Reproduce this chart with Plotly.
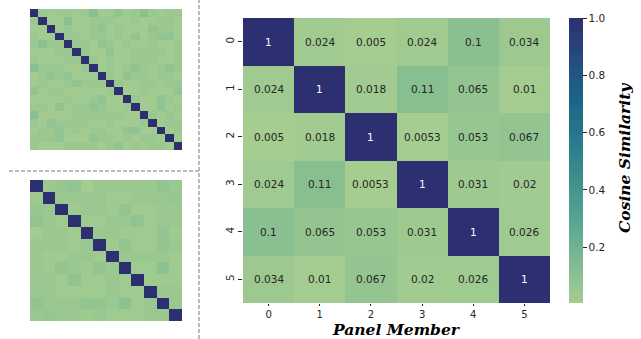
import plotly.graph_objects as go

# ---------------- data ----------------
members = [0, 1, 2, 3, 4, 5]
tick_labels = ["0", "1", "2", "3", "4", "5"]
sim_row0 = [1, 0.024, 0.005, 0.024, 0.1, 0.034]
sim_row1 = [0.024, 1, 0.018, 0.11, 0.065, 0.01]
sim_row2 = [0.005, 0.018, 1, 0.0053, 0.053, 0.067]
sim_row3 = [0.024, 0.11, 0.0053, 1, 0.031, 0.02]
sim_row4 = [0.1, 0.065, 0.053, 0.031, 1, 0.026]
sim_row5 = [0.034, 0.01, 0.067, 0.02, 0.026, 1]
main_matrix = [sim_row0, sim_row1, sim_row2, sim_row3, sim_row4, sim_row5]

# small panel A (18 members): upper triangle, row i holds columns i+1..17 (estimated)
small_a_upper = [
    [0.04, 0.015, 0.04, 0.04, 0.015, 0.04, 0.10, 0.015, 0.015, 0.07, 0.015, 0.04, 0.10, 0.04, 0.015, 0.04, 0.04],
    [0.015, 0.015, 0.10, 0.015, 0.015, 0.04, 0.04, 0.04, 0.015, 0.015, 0.04, 0.015, 0.015, 0.04, 0.04, 0.015],
    [0.015, 0.04, 0.015, 0.015, 0.04, 0.07, 0.015, 0.04, 0.015, 0.015, 0.015, 0.07, 0.04, 0.04, 0.015],
    [0.04, 0.04, 0.015, 0.04, 0.04, 0.015, 0.04, 0.015, 0.07, 0.015, 0.04, 0.07, 0.07, 0.015],
    [0.04, 0.04, 0.015, 0.07, 0.04, 0.015, 0.04, 0.015, 0.015, 0.04, 0.015, 0.015, 0.04],
    [0.04, 0.015, 0.015, 0.07, 0.015, 0.015, 0.04, 0.04, 0.04, 0.04, 0.015, 0.04],
    [0.04, 0.015, 0.04, 0.015, 0.015, 0.04, 0.04, 0.04, 0.015, 0.015, 0.04],
    [0.015, 0.04, 0.015, 0.04, 0.07, 0.04, 0.015, 0.04, 0.07, 0.04],
    [0.04, 0.015, 0.07, 0.04, 0.04, 0.015, 0.04, 0.04, 0.015],
    [0.04, 0.015, 0.015, 0.04, 0.04, 0.015, 0.04, 0.04],
    [0.015, 0.015, 0.04, 0.015, 0.015, 0.015, 0.07],
    [0.04, 0.015, 0.015, 0.07, 0.04, 0.015],
    [0.015, 0.015, 0.07, 0.015, 0.04],
    [0.04, 0.015, 0.04, 0.015],
    [0.015, 0.04, 0.04],
    [0.015, 0.04],
    [0.015],
]

# small panel B (12 members): upper triangle (estimated)
small_b_upper = [
    [0.03, 0.05, 0.07, 0.01, 0.04, 0.04, 0.04, 0.04, 0.04, 0.07, 0.04],
    [0.04, 0.04, 0.04, 0.04, 0.02, 0.02, 0.04, 0.04, 0.04, 0.05],
    [0.02, 0.04, 0.04, 0.02, 0.06, 0.02, 0.02, 0.04, 0.04],
    [0.02, 0.02, 0.04, 0.04, 0.07, 0.02, 0.04, 0.04],
    [0.04, 0.04, 0.02, 0.02, 0.02, 0.06, 0.02],
    [0.02, 0.06, 0.02, 0.02, 0.06, 0.04],
    [0.04, 0.04, 0.04, 0.04, 0.02],
    [0.02, 0.02, 0.09, 0.02],
    [0.02, 0.02, 0.02],
    [0.04, 0.04],
    [0.04],
]

colorbar_ticks = [0.2, 0.4, 0.6, 0.8, 1.0]

# seaborn "crest"
crest = [
    [0.0, "#a5cd90"],
    [1 / 7, "#7dba91"],
    [2 / 7, "#59a590"],
    [3 / 7, "#40908e"],
    [4 / 7, "#287a8c"],
    [5 / 7, "#1c6488"],
    [6 / 7, "#254b7f"],
    [1.0, "#2c3070"],
]


def full_from_upper(upper):
    n = len(upper) + 1
    m = [[1.0] * n for _ in range(n)]
    for i, row in enumerate(upper):
        for k, v in enumerate(row):
            j = i + 1 + k
            m[i][j] = v
            m[j][i] = v
    return m


small_a = full_from_upper(small_a_upper)
small_b = full_from_upper(small_b_upper)

W, H = 641, 339


def px(x):
    return x / W


def py(y):
    return 1 - y / H


fig = go.Figure()

# small heatmaps
fig.add_trace(go.Heatmap(z=small_a, colorscale=crest, zmin=0.0, zmax=1.0,
                         showscale=False, xaxis="x2", yaxis="y2", hoverinfo="skip"))
fig.add_trace(go.Heatmap(z=small_b, colorscale=crest, zmin=0.0, zmax=1.0,
                         showscale=False, xaxis="x3", yaxis="y3", hoverinfo="skip"))

# main heatmap
zmin = min(min(r) for r in main_matrix)
zmax = max(max(r) for r in main_matrix)
fig.add_trace(go.Heatmap(
    z=main_matrix, x=members, y=members, colorscale=crest, zmin=zmin, zmax=zmax,
    xaxis="x", yaxis="y", hoverinfo="skip",
    colorbar=dict(
        x=px(569), xanchor="left", xref="paper", xpad=0, ypad=0,
        y=py(160.5), yanchor="middle", yref="paper",
        len=285 / H, lenmode="fraction", thickness=14,
        outlinewidth=0, ticks="outside", ticklen=4, tickwidth=1, tickcolor="#262626",
        tickvals=colorbar_ticks, tickformat=".1f",
        tickfont=dict(family="DejaVu Sans", size=10.5, color="#262626"),
    ),
))

annotations = []
for i, row in enumerate(main_matrix):
    for j, v in enumerate(row):
        annotations.append(dict(
            x=members[j], y=members[i], xref="x", yref="y",
            text=format(v, ".2g"), showarrow=False,
            font=dict(family="DejaVu Sans", size=10.5,
                      color="white" if v > 0.5 else "#262626"),
        ))

title_font = dict(family="DejaVu Serif", size=15.5, color="black", weight="bold", style="italic")
annotations.append(dict(x=px(396), y=0, xref="paper", yref="paper",
                        text="Panel Member", showarrow=False, font=title_font,
                        xanchor="center", yanchor="bottom", height=16))
annotations.append(dict(x=px(624), y=py(158), xref="paper", yref="paper",
                        text="Cosine Similarity", showarrow=False, font=title_font,
                        textangle=-90, xanchor="center", yanchor="middle"))

tickfont = dict(family="DejaVu Sans", size=10.5, color="#262626")
xtickfont = dict(family="DejaVu Sans", size=10, color="#262626")
fig.update_layout(
    width=W, height=H, margin=dict(l=0, r=0, t=0, b=0),
    paper_bgcolor="white", plot_bgcolor="white",
    annotations=annotations,
    xaxis=dict(domain=[px(243), px(550)], anchor="y", tickvals=members, ticktext=tick_labels,
               ticks="outside", ticklen=2, tickcolor="#262626", tickfont=xtickfont,
               showgrid=False, zeroline=False, showline=False, range=[-0.5, 5.5]),
    yaxis=dict(domain=[py(303), py(18)], anchor="x", tickvals=members, ticktext=tick_labels,
               ticks="outside", ticklen=4, tickcolor="#262626", tickfont=tickfont, tickangle=-90,
               showgrid=False, zeroline=False, showline=False, range=[5.5, -0.5]),
    xaxis2=dict(domain=[px(30), px(182)], anchor="y2", visible=False, range=[-0.5, 17.5]),
    yaxis2=dict(domain=[py(150), py(9)], anchor="x2", visible=False, range=[17.5, -0.5]),
    xaxis3=dict(domain=[px(30), px(182)], anchor="y3", visible=False, range=[-0.5, 11.5]),
    yaxis3=dict(domain=[py(321), py(180)], anchor="x3", visible=False, range=[11.5, -0.5]),
    shapes=[
        dict(type="line", xref="paper", yref="paper", x0=px(199), x1=px(199), y0=0, y1=1,
             line=dict(color="#a8a8a8", width=1.5, dash="4px,2px")),
        dict(type="line", xref="paper", yref="paper", x0=px(9), x1=px(199), y0=py(171), y1=py(171),
             line=dict(color="#a8a8a8", width=1.5, dash="4px,2px")),
    ],
)

fig.write_html(
    "out.html",
    config={"displayModeBar": False},
    post_script="document.body.style.margin='0px';document.body.style.overflow='hidden';",
)
